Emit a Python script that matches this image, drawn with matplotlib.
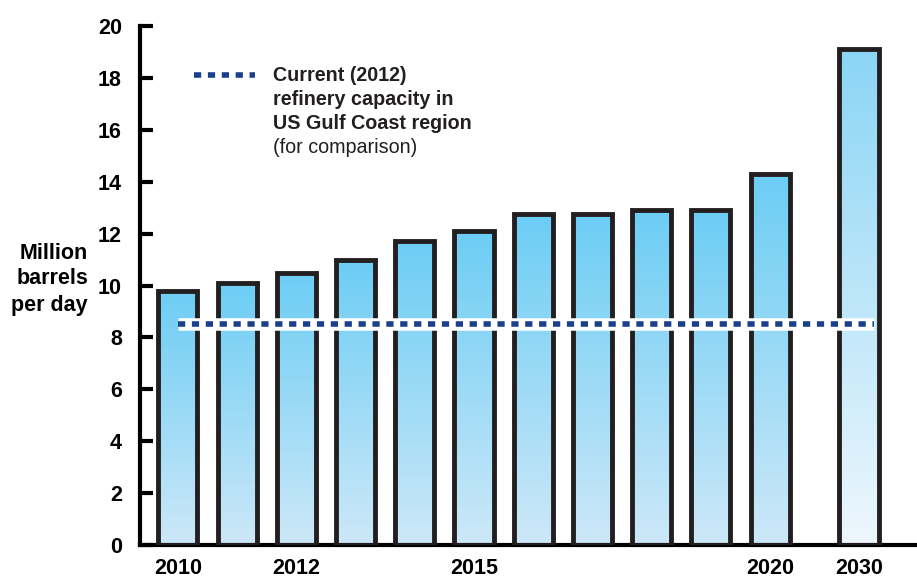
import matplotlib.pyplot as plt
import numpy as np
from matplotlib.colors import LinearSegmentedColormap

plt.rcParams['font.family'] = ['Liberation Sans', 'DejaVu Sans']

# data
years = ['2010', '2011', '2012', '2013', '2014', '2015', '2016', '2017', '2018', '2019', '2020', '2030']
capacity = [9.8, 10.1, 10.5, 11.0, 11.7, 12.1, 12.75, 12.75, 12.9, 12.9, 14.3, 19.1]
xpos = [0, 1, 2, 3, 4, 5, 6, 7, 8, 9, 10, 11.5]
shown_labels = ['2010', '', '2012', '', '', '2015', '', '', '', '', '2020', '2030']
gulf_capacity_2012 = 8.5

fig = plt.figure(figsize=(9.17, 5.77), dpi=100)
ax = fig.add_axes([140 / 917, 32 / 577, 777 / 917, 519 / 577])

ax.set_xlim(-0.64, 12.48)
ax.set_ylim(0, 20)

bar_w = 0.66
cmap_normal = LinearSegmentedColormap.from_list('b', ['#cde8f8', '#6ccdf4'])
cmap_last = LinearSegmentedColormap.from_list('b2', ['#eef7fd', '#8bd5f5'])

for i, (x, v) in enumerate(zip(xpos, capacity)):
    cmap = cmap_last if years[i] == '2030' else cmap_normal
    grad = np.linspace(0, 1, 256).reshape(-1, 1)
    im = ax.imshow(grad, cmap=cmap, origin='lower', aspect='auto',
                   extent=[x - bar_w / 2, x + bar_w / 2, 0, v], zorder=2)
    rect = plt.Rectangle((x - bar_w / 2, 0), bar_w, v, facecolor='none',
                         edgecolor='#231f20', linewidth=3.5, zorder=3,
                         joinstyle='miter')
    ax.add_patch(rect)
    im.set_clip_path(rect)

# dotted reference line with white halo
ax.plot([0, 11.75], [gulf_capacity_2012] * 2, color='white', linewidth=9,
        solid_capstyle='butt', zorder=4)
ax.plot([0, 11.75], [gulf_capacity_2012] * 2, color='#1b3f8b', linewidth=4,
        linestyle=(0, (1.3, 1.2)), dash_capstyle='butt', zorder=5)

# legend-like annotation
ax.plot([0.28, 1.3], [18.1, 18.1], color='#1b3f8b', linewidth=4,
        linestyle=(0, (1.3, 1.2)), dash_capstyle='butt', zorder=5)
legend_lines = ['Current (2012)', 'refinery capacity in', 'US Gulf Coast region']
for k, line in enumerate(legend_lines):
    ax.text(1.6, 18.1 - k * 0.93, line, fontsize=14.2, fontweight='bold',
            va='center', ha='left', color='#231f20')
ax.text(1.6, 18.1 - 3 * 0.93, '(for comparison)', fontsize=14.2, va='center',
        ha='left', color='#231f20')

ax.set_xticks(xpos)
ax.set_xticklabels(shown_labels, fontsize=15.5, fontweight='bold')
ax.tick_params(axis='x', length=0, pad=9)

ax.set_yticks(range(0, 21, 2))
ax.tick_params(axis='y', direction='in', length=9, width=3, pad=13,
               labelsize=15.5)
for lbl in ax.get_yticklabels():
    lbl.set_fontweight('bold')

for s in ['top', 'right']:
    ax.spines[s].set_visible(False)
ax.spines['left'].set_linewidth(3)
ax.spines['bottom'].set_linewidth(3)

ylabel_lines = ['Million', 'barrels', 'per day']
for k, line in enumerate(ylabel_lines):
    fig.text(88 / 917, 1 - (253 + k * 26) / 577, line, fontsize=15.5,
             fontweight='bold', ha='right', va='center')

fig.savefig('out.png', dpi=100)
